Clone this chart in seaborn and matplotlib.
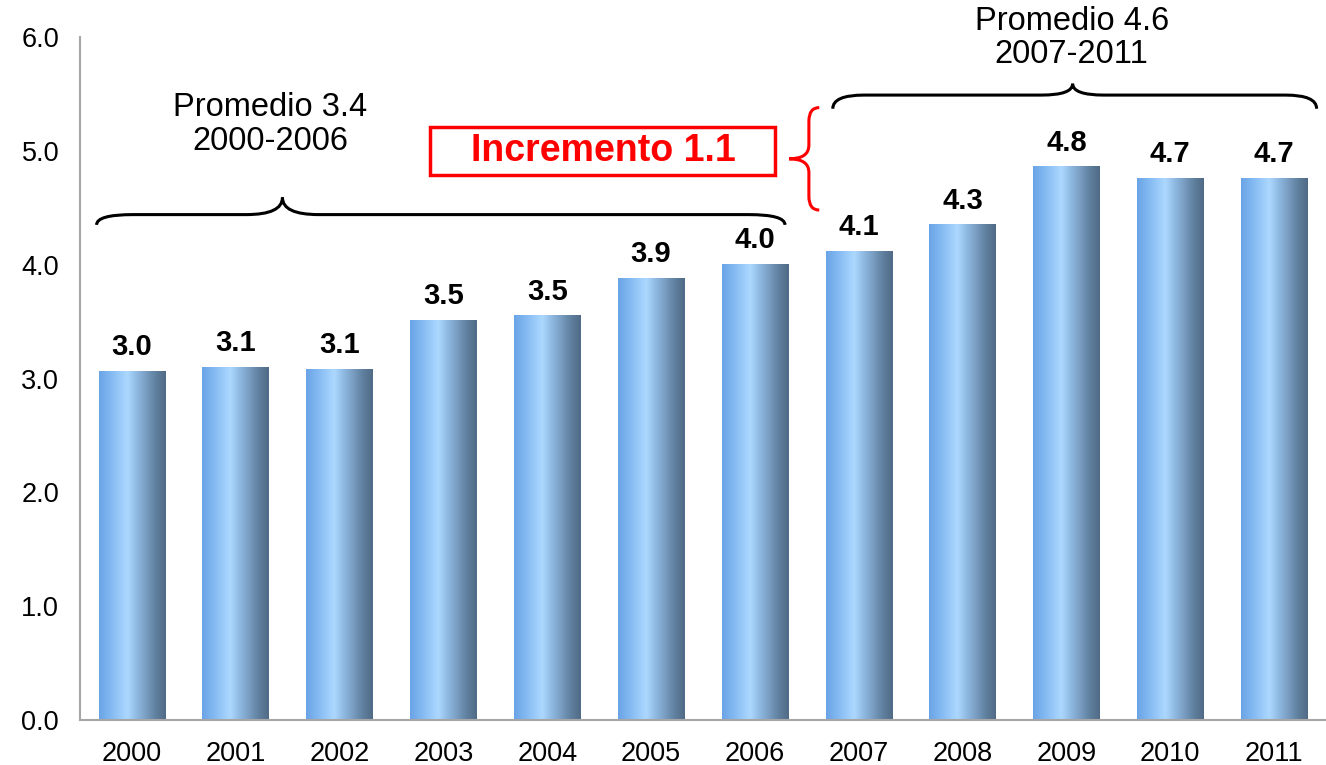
import numpy as np
import pandas as pd
import matplotlib
matplotlib.use("Agg")
import matplotlib.pyplot as plt
import seaborn as sns
from matplotlib.path import Path
from matplotlib.patches import PathPatch, Rectangle
from matplotlib.colors import LinearSegmentedColormap

# Data
years = ["2000", "2001", "2002", "2003", "2004", "2005",
         "2006", "2007", "2008", "2009", "2010", "2011"]
values = [3.06, 3.10, 3.08, 3.51, 3.55, 3.88, 4.00, 4.12, 4.35, 4.86, 4.76, 4.76]
labels = ["3.0", "3.1", "3.1", "3.5", "3.5", "3.9", "4.0", "4.1", "4.3", "4.8", "4.7", "4.7"]

df = pd.DataFrame({"year": years, "value": values})

sns.set_theme(style="white")
plt.rcParams["font.family"] = ["Liberation Sans", "DejaVu Sans"]
plt.rcParams["text.color"] = "black"

fig = plt.figure(figsize=(13.26, 7.65), dpi=100)
ax = fig.add_axes([0.0603, 0.0588, 0.9397, 0.8928])

sns.barplot(data=df, x="year", y="value", width=0.64, color="#7fb6f0", ax=ax)

# gradient fill for each bar
grad = LinearSegmentedColormap.from_list(
    "bar", [(0.0, "#6aa4e6"), (0.15, "#7fb6f0"), (0.42, "#acd8ff"),
            (0.6, "#8ab2da"), (0.85, "#60809f"), (1.0, "#506a86")])
strip = np.linspace(0, 1, 256).reshape(1, -1)
for p, lab in zip(ax.patches, labels):
    x, w, h = p.get_x(), p.get_width(), p.get_height()
    p.set_facecolor("none")
    p.set_edgecolor("none")
    ax.imshow(strip, cmap=grad, extent=[x, x + w, 0, h], aspect="auto",
              zorder=2, interpolation="bicubic")
    ax.text(x + w / 2, h + 0.09, lab, ha="center", va="bottom",
            fontsize=21, fontweight="bold", color="black")

ax.set_xlim(-0.5, 11.43)
ax.set_ylim(0, 6)
ax.set_yticks(np.arange(0, 6.1, 1.0))
ax.set_yticklabels([f"{v:.1f}" for v in np.arange(0, 6.1, 1.0)])
ax.set_xlabel("")
ax.set_ylabel("")

gray = "#a6a6a6"
for s in ["top", "right"]:
    ax.spines[s].set_visible(False)
for s in ["left", "bottom"]:
    ax.spines[s].set_color(gray)
    ax.spines[s].set_linewidth(1.5)

ax.set_xticks(np.arange(-0.5, 12, 1.0), minor=True)
ax.tick_params(axis="x", which="major", length=0, labelsize=19.5, pad=15, labelcolor="black")
ax.tick_params(axis="x", which="minor", length=7, width=1.5, color=gray, direction="out")
ax.tick_params(axis="y", length=7, width=1.5, color=gray, direction="out",
               labelsize=19.5, pad=8, labelcolor="black")


def hbrace(x0, x1, xm, y, drop, peak, r, color="black"):
    verts = [(x0, y - drop), (x0, y), (x0 + r, y),
             (xm - r, y),
             (xm, y), (xm, y + peak),
             (xm, y), (xm + r, y),
             (x1 - r, y),
             (x1, y), (x1, y - drop)]
    codes = [Path.MOVETO, Path.CURVE3, Path.CURVE3,
             Path.LINETO,
             Path.CURVE3, Path.CURVE3,
             Path.CURVE3, Path.CURVE3,
             Path.LINETO,
             Path.CURVE3, Path.CURVE3]
    ax.add_patch(PathPatch(Path(verts, codes), fill=False, lw=2.2,
                           edgecolor=color, clip_on=False, zorder=5))


def vbrace(x, y0, y1, ym, depth, tip, r, color):
    verts = [(x + depth, y1), (x, y1), (x, y1 - r),
             (x, ym + r),
             (x, ym), (x - tip, ym),
             (x, ym), (x, ym - r),
             (x, y0 + r),
             (x, y0), (x + depth, y0)]
    codes = [Path.MOVETO, Path.CURVE3, Path.CURVE3,
             Path.LINETO,
             Path.CURVE3, Path.CURVE3,
             Path.CURVE3, Path.CURVE3,
             Path.LINETO,
             Path.CURVE3, Path.CURVE3]
    ax.add_patch(PathPatch(Path(verts, codes), fill=False, lw=2.2,
                           edgecolor=color, clip_on=False, zorder=5))


# braces over each period
hbrace(-0.34, 6.29, 1.45, 4.44, 0.09, 0.15, 0.35)
hbrace(6.75, 11.41, 9.06, 5.49, 0.12, 0.1, 0.3)
vbrace(6.52, 4.48, 5.38, 4.93, 0.1, 0.19, 0.12, "red")

ax.text(1.33, 5.23, "Promedio 3.4\n2000-2006", ha="center", va="center",
        fontsize=23.5, linespacing=1.1, color="black", clip_on=False)
ax.text(9.05, 5.99, "Promedio 4.6\n2007-2011", ha="center", va="center",
        fontsize=23.5, linespacing=1.1, color="black", clip_on=False)

# red "Incremento" box
ax.add_patch(Rectangle((2.87, 4.79), 3.32, 0.42, facecolor="white",
                       edgecolor="#ff0000", linewidth=2.5, zorder=6))
ax.text(4.54, 5.0, "Incremento 1.1", ha="center", va="center", color="#ff0000",
        fontsize=27, fontweight="bold", zorder=7)

fig.savefig("out.png", dpi=100)
